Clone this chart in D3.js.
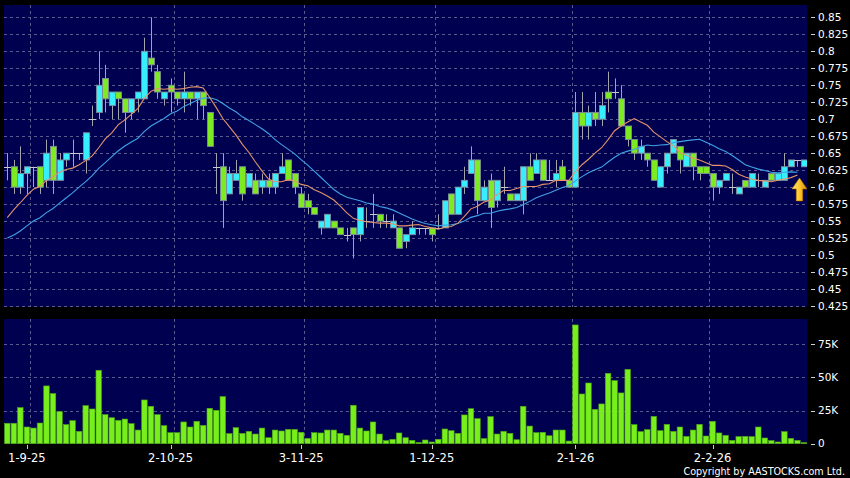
<!DOCTYPE html>
<html><head><meta charset="utf-8">
<script src="https://cdn.jsdelivr.net/npm/d3@7"></script>
<style>html,body{margin:0;padding:0;background:#000;overflow:hidden}svg{display:block}</style>
</head><body>
<svg id="c" width="850" height="478"></svg>
<script>
// ---- data ----
const opens  = [0.63,0.63,0.60,0.62,0.63,0.63,0.61,0.66,0.61,0.64, 0.65,0.65,0.64,0.70,0.71,0.76,0.72,0.74,0.73,0.71,
                0.73,0.73,0.79,0.77,0.73,0.75,0.74,0.73,0.74,0.73, 0.74,0.71,0.63,0.63,0.59,0.61,0.63,0.60,0.61,0.60,
                0.61,0.60,0.62,0.64,0.62,0.59,0.58,0.57,0.54,0.54, 0.55,0.54,0.53,0.54,0.53,0.55,0.56,0.56,0.55,0.54,
                0.54,0.52,0.53,0.54,0.54,0.54,0.54,0.54,0.59,0.56, 0.60,0.62,0.64,0.58,0.61,0.58,0.60,0.59,0.58,0.58,
                0.63,0.62,0.64,0.61,0.61,0.63,0.61,0.60,0.71,0.69, 0.71,0.70,0.74,0.74,0.73,0.69,0.67,0.65,0.65,0.64,
                0.60,0.63,0.65,0.66,0.63,0.65,0.63,0.63,0.62,0.60, 0.61,0.60,0.59,0.61,0.60,0.61,0.60,0.62,0.61,0.61,
                0.63,0.64,0.63];
const highs  = [0.65,0.64,0.66,0.63,0.63,0.63,0.67,0.67,0.65,0.65, 0.67,0.65,0.68,0.72,0.80,0.78,0.74,0.74,0.73,0.73,
                0.74,0.82,0.85,0.78,0.74,0.76,0.74,0.77,0.74,0.74, 0.74,0.71,0.65,0.65,0.63,0.64,0.63,0.62,0.62,0.62,
                0.62,0.62,0.65,0.64,0.62,0.60,0.59,0.57,0.55,0.56, 0.55,0.54,0.54,0.54,0.57,0.57,0.59,0.56,0.56,0.56,
                0.54,0.53,0.55,0.54,0.54,0.54,0.56,0.58,0.59,0.60, 0.63,0.66,0.64,0.61,0.62,0.61,0.63,0.59,0.59,0.63,
                0.65,0.65,0.64,0.64,0.64,0.64,0.61,0.74,0.74,0.72, 0.74,0.74,0.77,0.76,0.75,0.69,0.67,0.67,0.65,0.64,
                0.63,0.65,0.67,0.66,0.65,0.65,0.63,0.63,0.62,0.61, 0.62,0.62,0.60,0.61,0.62,0.62,0.61,0.62,0.62,0.65,
                0.64,0.64,0.64];
const lows   = [0.61,0.59,0.59,0.59,0.60,0.59,0.60,0.59,0.61,0.63, 0.63,0.64,0.62,0.69,0.70,0.71,0.70,0.70,0.68,0.70,
                0.71,0.73,0.77,0.73,0.72,0.71,0.72,0.71,0.72,0.70, 0.70,0.66,0.59,0.54,0.59,0.61,0.58,0.60,0.59,0.59,
                0.59,0.59,0.62,0.61,0.59,0.57,0.56,0.56,0.53,0.54, 0.54,0.53,0.52,0.495,0.52,0.54,0.54,0.54,0.54,0.54,
                0.51,0.51,0.53,0.53,0.53,0.52,0.54,0.54,0.56,0.56, 0.59,0.62,0.56,0.58,0.54,0.57,0.59,0.58,0.58,0.56,
                0.61,0.62,0.61,0.61,0.60,0.61,0.60,0.60,0.67,0.67, 0.69,0.69,0.71,0.73,0.69,0.66,0.64,0.64,0.63,0.61,
                0.60,0.62,0.65,0.62,0.63,0.61,0.61,0.62,0.58,0.59, 0.61,0.59,0.59,0.60,0.60,0.60,0.60,0.61,0.61,0.61,
                0.63,0.63,0.63];
const closes = [0.63,0.60,0.62,0.63,0.63,0.60,0.65,0.61,0.64,0.65, 0.65,0.65,0.68,0.70,0.75,0.73,0.74,0.73,0.71,0.73,
                0.74,0.80,0.78,0.74,0.74,0.74,0.73,0.74,0.73,0.74, 0.72,0.66,0.63,0.58,0.62,0.62,0.59,0.62,0.59,0.61,
                0.60,0.62,0.63,0.61,0.60,0.57,0.57,0.56,0.55,0.56, 0.54,0.53,0.53,0.53,0.57,0.55,0.56,0.55,0.55,0.55,
                0.51,0.53,0.54,0.54,0.54,0.53,0.54,0.58,0.56,0.60, 0.61,0.64,0.58,0.60,0.57,0.61,0.60,0.58,0.59,0.63,
                0.61,0.64,0.61,0.61,0.62,0.61,0.60,0.71,0.69,0.71, 0.70,0.72,0.73,0.74,0.69,0.67,0.65,0.66,0.64,0.61,
                0.63,0.65,0.67,0.64,0.65,0.63,0.62,0.62,0.60,0.61, 0.62,0.60,0.60,0.60,0.62,0.61,0.61,0.61,0.62,0.63,
                0.64,0.64,0.64];
// volume in thousands of shares
const volumes = [15.4,15.4,27.2,12.6,11.8,15.6,43.6,37.8,24.2,14.4, 17.4,9.3,28.7,26.2,55.4,21.9,19.6,17.6,18.6,15.1,
                 10.3,33.0,28.2,21.9,13.6,8.3,8.3,16.4,12.6,16.9, 13.8,26.7,25.2,35.5,7.6,12.1,7.8,9.3,7.3,11.8,
                 4.5,10.3,9.6,10.8,10.8,8.6,4.0,8.3,8.1,10.3, 10.3,7.8,6.3,29.0,11.8,9.6,16.4,7.3,2.3,3.3,
                 8.1,4.5,2.5,1.0,2.8,1.3,3.3,11.1,9.8,7.8, 21.7,26.4,18.9,3.8,20.4,7.3,9.3,7.8,3.0,28.2,
                 13.3,8.3,8.6,6.0,10.3,10.3,2.0,89.6,37.5,45.8, 25.9,30.0,53.1,47.6,38.3,56.1,14.4,9.1,10.6,20.6,
                 9.8,14.6,9.3,12.6,5.5,10.3,14.6,5.8,16.9,8.1, 6.3,2.5,5.3,5.5,5.3,12.6,4.3,2.3,1.3,9.1,
                 4.0,2.5,0.8];
// closes before the first visible bar, estimated from where the moving-average lines start
const priorCloses = [0.51,0.50,0.48,0.49,0.50,0.50,0.49,0.48,0.50,0.50, 0.48,0.52,0.52,0.54,0.56,0.56,0.56,0.57,0.61];
const maPeriods = [10, 20];
const maLastIndex = 121;
const dateLabels = ["1-9-25","2-10-25","3-11-25","1-12-25","2-1-26","2-2-26"];
const dateIndex  = [3, 25, 45, 65, 87, 108];
const gridIndex  = [3.5, 25.5, 45.5, 65.5, 86.5, 107.5];
const priceTicks = [0.85,0.825,0.8,0.775,0.75,0.725,0.7,0.675,0.65,0.625,0.6,0.575,0.55,0.525,0.5,0.475,0.45,0.425];
const priceTickLabels = ["0.85","0.825","0.8","0.775","0.75","0.725","0.7","0.675","0.65","0.625","0.6","0.575","0.55","0.525","0.5","0.475","0.45","0.425"];
const volumeTicks = [0, 25, 50, 75];
const volumeTickLabels = ["0","25K","50K","75K"];
const copyrightText = "Copyright by AASTOCKS.com Ltd.";

// ---- layout ----
const svg = d3.select("#c");
const W = 850, H = 478;
const panelL = 4, panelR = 807;
const mainTop = 5, mainBot = 307;
const volTop = 319, volBot = 444;
const N = closes.length;

const x = d3.scaleLinear().domain([0, N - 1]).range([7.3, 804]);
const y = d3.scaleLinear().domain([0.425, 0.85]).range([306, 17.3]);
const yv = d3.scaleLinear().domain([0, 75]).range([443.7, 344.3]);

const C = {
  bg: "#000000", panel: "#000050", grid: "#5a5a8c",
  up: "#38eefc", down: "#7eea22", bodyStroke: "#7d8c9a", wick: "#a4a4ac",
  ma10: "#e4946a", ma20: "#3fa2e6", vol: "#78ee1c", volStroke: "#4ea814", text: "#ffffff"
};
const FONT = "DejaVu Sans, Verdana, sans-serif";

svg.append("rect").attr("width", W).attr("height", H).attr("fill", C.bg);
svg.append("rect").attr("x", panelL).attr("y", mainTop).attr("width", panelR - panelL).attr("height", mainBot - mainTop).attr("fill", C.panel);
svg.append("rect").attr("x", panelL).attr("y", volTop).attr("width", panelR - panelL).attr("height", volBot - volTop).attr("fill", C.panel);

// clip paths
const defs = svg.append("defs");
defs.append("clipPath").attr("id", "clipMain").append("rect").attr("x", panelL).attr("y", mainTop).attr("width", panelR - panelL).attr("height", mainBot - mainTop);
defs.append("clipPath").attr("id", "clipVol").append("rect").attr("x", panelL).attr("y", volTop).attr("width", panelR - panelL).attr("height", volBot - volTop);
const grad = defs.append("linearGradient").attr("id", "arrowGrad").attr("x1", "0").attr("x2", "1").attr("y1", "0").attr("y2", "0");
grad.append("stop").attr("offset", "0").attr("stop-color", "#ffe680");
grad.append("stop").attr("offset", "0.5").attr("stop-color", "#ffc62a");
grad.append("stop").attr("offset", "1").attr("stop-color", "#d98e00");

// ---- grids ----
const gMain = svg.append("g").attr("clip-path", "url(#clipMain)");
gMain.selectAll("line.hg").data(priceTicks).join("line")
  .attr("x1", panelL).attr("x2", panelR)
  .attr("y1", d => Math.round(y(d)) + 0.5).attr("y2", d => Math.round(y(d)) + 0.5)
  .attr("stroke", C.grid).attr("stroke-width", 1).attr("stroke-dasharray", "3,3");
gMain.selectAll("line.vg").data(gridIndex).join("line")
  .attr("x1", d => Math.round(x(d)) + 0.5).attr("x2", d => Math.round(x(d)) + 0.5)
  .attr("y1", mainTop).attr("y2", mainBot)
  .attr("stroke", C.grid).attr("stroke-width", 1).attr("stroke-dasharray", "3,3");

const gVol = svg.append("g").attr("clip-path", "url(#clipVol)");
gVol.selectAll("line.hg").data(volumeTicks.slice(1)).join("line")
  .attr("x1", panelL).attr("x2", panelR)
  .attr("y1", d => Math.round(yv(d)) + 0.5).attr("y2", d => Math.round(yv(d)) + 0.5)
  .attr("stroke", C.grid).attr("stroke-width", 1).attr("stroke-dasharray", "3,3");
gVol.selectAll("line.vg").data(gridIndex).join("line")
  .attr("x1", d => Math.round(x(d)) + 0.5).attr("x2", d => Math.round(x(d)) + 0.5)
  .attr("y1", volTop).attr("y2", volBot)
  .attr("stroke", C.grid).attr("stroke-width", 1).attr("stroke-dasharray", "3,3");

// ---- moving averages ----
const allCloses = priorCloses.concat(closes);
const off = priorCloses.length;
function movingAverage(n) {
  const out = [];
  for (let i = 0; i <= maLastIndex; i++) {
    const s = allCloses.slice(off + i - n + 1, off + i + 1);
    out.push({ i, v: d3.mean(s) });
  }
  return out;
}
const ma10 = movingAverage(maPeriods[0]);
const ma20 = movingAverage(maPeriods[1]);
const line = d3.line().x(d => x(d.i)).y(d => y(d.v));

// ---- candles ----
const candles = d3.range(N).map(i => ({ i, o: opens[i], h: highs[i], l: lows[i], c: closes[i] }));
const bw = 5;
gMain.selectAll("line.wick").data(candles).join("line")
  .attr("x1", d => Math.round(x(d.i)) + 0.5).attr("x2", d => Math.round(x(d.i)) + 0.5)
  .attr("y1", d => y(d.h)).attr("y2", d => y(d.l))
  .attr("stroke", C.wick).attr("stroke-width", 1);
gMain.selectAll("rect.body").data(candles.filter(d => d.o !== d.c)).join("rect")
  .attr("x", d => Math.round(x(d.i)) + 0.5 - bw / 2 - 0.5)
  .attr("width", bw + 1)
  .attr("y", d => y(Math.max(d.o, d.c)))
  .attr("height", d => Math.abs(y(d.o) - y(d.c)))
  .attr("fill", d => d.c > d.o ? C.up : C.down)
  .attr("stroke", C.bodyStroke).attr("stroke-width", 0.9);
gMain.selectAll("line.doji").data(candles.filter(d => d.o === d.c)).join("line")
  .attr("x1", d => Math.round(x(d.i)) + 0.5 - bw / 2 - 1).attr("x2", d => Math.round(x(d.i)) + 0.5 + bw / 2 + 1)
  .attr("y1", d => Math.round(y(d.o)) + 0.5).attr("y2", d => Math.round(y(d.o)) + 0.5)
  .attr("stroke", "#c8c8d0").attr("stroke-width", 1);

gMain.append("path").datum(ma20).attr("d", line).attr("fill", "none").attr("stroke", C.ma20).attr("stroke-width", 1.1);
gMain.append("path").datum(ma10).attr("d", line).attr("fill", "none").attr("stroke", C.ma10).attr("stroke-width", 1.1);

// arrow under the last moving-average point
const ax = x(maLastIndex) + 2;
const atip = y(ma10[ma10.length - 1].v) + 3;
const arrowPath = d3.path();
arrowPath.moveTo(ax, atip);
arrowPath.lineTo(ax + 7.5, atip + 11);
arrowPath.lineTo(ax + 3.2, atip + 11);
arrowPath.lineTo(ax + 3.2, atip + 23);
arrowPath.lineTo(ax - 3.2, atip + 23);
arrowPath.lineTo(ax - 3.2, atip + 11);
arrowPath.lineTo(ax - 7.5, atip + 11);
arrowPath.closePath();
svg.append("path").attr("d", arrowPath.toString()).attr("fill", "url(#arrowGrad)").attr("stroke", "#b87800").attr("stroke-width", 0.6);

// ---- volume bars ----
gVol.selectAll("rect.vol").data(volumes.map((v, i) => ({ i, v }))).join("rect")
  .attr("x", d => x(d.i) - 2.75).attr("width", 5.5)
  .attr("y", d => yv(d.v)).attr("height", d => yv(0) - yv(d.v))
  .attr("fill", C.vol).attr("stroke", C.volStroke).attr("stroke-width", 0.6);

// ---- right axes ----
const axisX = 811;
const gPA = svg.append("g");
gPA.selectAll("line").data(priceTicks).join("line")
  .attr("x1", axisX).attr("x2", axisX + 4)
  .attr("y1", d => Math.round(y(d)) + 0.5).attr("y2", d => Math.round(y(d)) + 0.5)
  .attr("stroke", "#d0d0d0").attr("stroke-width", 1);
gPA.selectAll("text").data(priceTicks).join("text")
  .attr("x", axisX + 7).attr("y", d => y(d)).attr("dy", "0.36em")
  .attr("fill", C.text).attr("font-family", FONT).attr("font-size", 10.5)
  .text((d, i) => priceTickLabels[i]);

const gVA = svg.append("g");
gVA.selectAll("line").data(volumeTicks).join("line")
  .attr("x1", axisX).attr("x2", axisX + 4)
  .attr("y1", d => Math.round(yv(d)) + 0.5).attr("y2", d => Math.round(yv(d)) + 0.5)
  .attr("stroke", "#d0d0d0").attr("stroke-width", 1);
gVA.selectAll("text").data(volumeTicks).join("text")
  .attr("x", axisX + 7).attr("y", d => yv(d)).attr("dy", "0.36em")
  .attr("fill", C.text).attr("font-family", FONT).attr("font-size", 10.5)
  .text((d, i) => volumeTickLabels[i]);

// ---- date axis ----
const gDA = svg.append("g");
gDA.selectAll("line").data(dateIndex).join("line")
  .attr("x1", d => Math.round(x(d)) + 0.5).attr("x2", d => Math.round(x(d)) + 0.5)
  .attr("y1", volBot + 1).attr("y2", volBot + 5)
  .attr("stroke", "#c8c8c8").attr("stroke-width", 1);
gDA.selectAll("text").data(dateIndex).join("text")
  .attr("x", d => x(d)).attr("y", 462).attr("text-anchor", "middle")
  .attr("fill", C.text).attr("font-family", FONT).attr("font-size", 11.5)
  .text((d, i) => dateLabels[i]);

svg.append("text").attr("x", 845).attr("y", 475).attr("text-anchor", "end")
  .attr("fill", C.text).attr("font-family", FONT).attr("font-size", 9.6)
  .text(copyrightText);
</script>
</body></html>
